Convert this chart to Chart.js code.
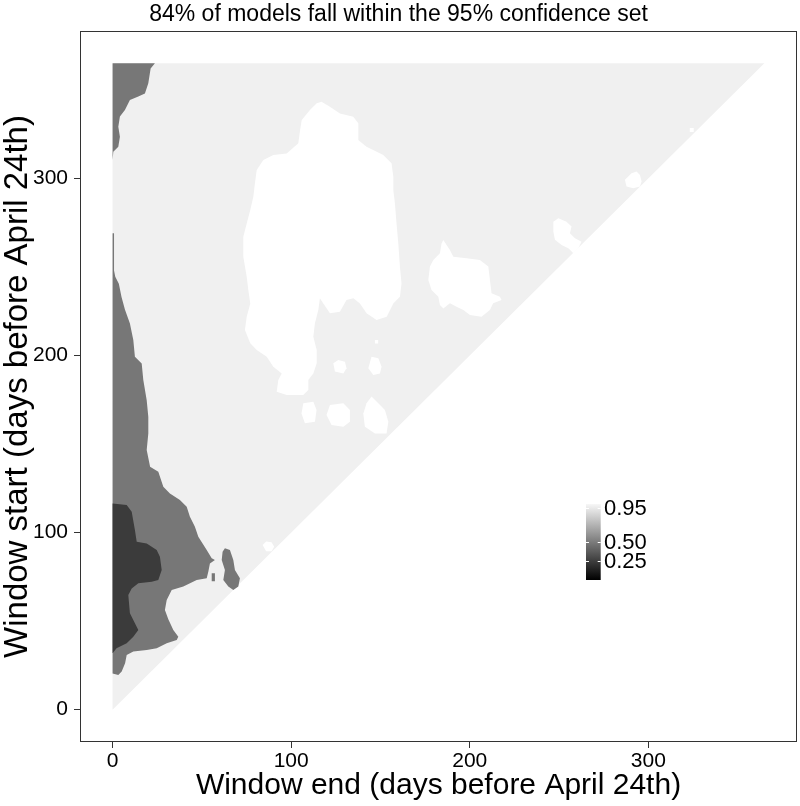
<!DOCTYPE html>
<html>
<head>
<meta charset="utf-8">
<script src="https://cdn.jsdelivr.net/npm/chart.js@4.4.0/dist/chart.umd.min.js"></script>
<style>
  html, body { margin: 0; padding: 0; background: #fff; }
</style>
</head>
<body>
<canvas id="grafico" width="800" height="806"></canvas>
<script>
// datos (dias antes del 24 de abril: x = fin de ventana, y = inicio de ventana)
const tickValues = [0, 100, 200, 300];
const legendTicks = [0.25, 0.50, 0.95];
const legendRange = [0, 1];

// zona valida (inicio >= fin)
const triangulo = [[0, 0], [0, 365], [365, 365]];

// manchas blancas
const blancaGrande = [
  [117, 343.3], [121.7, 340.5], [127.3, 336.7], [134.8, 334.8], [137.6, 331.1], [137.6, 321.7],
  [142.2, 317.9], [151.6, 313.2], [156.2, 308.5], [157.2, 301], [157.2, 293.4], [158.1, 285.9],
  [159, 274.6], [160, 263.3], [160.9, 250.1], [161.8, 240.7], [160.9, 233.2], [157.2, 229.4],
  [153.5, 221.9], [147.8, 220], [142.2, 223.8], [138.5, 229.4], [134.8, 232.3], [131, 231.3],
  [127.3, 224.7], [121.7, 223.8], [118, 229.4], [116.1, 232.3], [115.2, 225.7], [113.3, 218.2],
  [112.4, 210.6], [114.3, 203.1], [114.3, 195.6], [112.4, 189.9], [109.6, 186.2], [109.6, 180.5],
  [106.8, 177.7], [97.5, 177.7], [91.9, 179.6], [92.8, 186.2], [94.7, 189.9], [90, 193.7],
  [86.3, 199.3], [80.7, 203.1], [77.1, 206.9], [74.1, 214.4], [75.1, 221.9], [77.1, 229.4],
  [76, 237], [75.1, 244.5], [73.2, 255.8], [73.2, 267.1], [75.1, 274.6], [77.1, 282.1],
  [78.8, 289.7], [79.7, 297.2], [80.7, 304.7], [84.4, 310.4], [90, 313.2], [97.5, 314.1],
  [104, 319.8], [105, 327.3], [105.9, 333], [110.5, 338.6], [114.3, 342.4]
];
const blancaDerecha = [
  [185.2, 265.2], [188.9, 259.6], [190.8, 255.8], [198.2, 254.9], [205.7, 253.9], [210.4, 250.2],
  [211.3, 242.6], [212.2, 235.1], [216.9, 233.2], [217.8, 231.3], [213.1, 229.5], [211.3, 225.7],
  [206.6, 221.9], [200.1, 222.9], [196.4, 225.7], [192.6, 227.6], [188.9, 229.5], [185.2, 226.6],
  [183.3, 228.5], [182.4, 233.2], [178.6, 237], [176.8, 242.6], [177.7, 250.2], [179.6, 253.9],
  [183.3, 257.7], [184.2, 263.3]
];
const blancaChica1 = [[123.6, 195.6], [126.4, 197.5], [130.1, 196.5], [131, 192.8], [129.2, 189.9], [124.5, 190.9]];
const blancaChica2 = [[145, 199.3], [148.8, 198.4], [150.6, 193.7], [149.7, 189.9], [146, 189], [143.2, 192.8]];
const blancaPunto = [[146.9, 208.8], [148.7, 208.8], [148.7, 206.8], [146.9, 206.8]];
const blancaAbajo1 = [[106.8, 173], [112.4, 173.9], [114.2, 169.2], [113.3, 162.6], [107.7, 161.7], [105.8, 167.3]];
const blancaAbajo2 = [[121.7, 172], [129.2, 173], [132.9, 169.2], [132.9, 162.6], [129.2, 159.8], [122.6, 160.7], [119.8, 166.4]];
const blancaAbajo3 = [[145, 176.8], [148.8, 173], [152.5, 169.2], [154.4, 162.6], [153.4, 156], [146.9, 156], [141.3, 159.8], [140.4, 167.3], [142.2, 173]];
const blancaDiagonal1 = [
  [246.8, 275.6], [249.6, 277.5], [254.2, 275.6], [257, 272.8], [256.1, 269], [258.9, 266.2],
  [262.6, 264.3], [260.8, 260.6], [258, 257.7], [255.2, 260.6], [251.4, 262.4], [247.7, 265.3], [246.8, 270]
];
const blancaDiagonal2 = [[286.9, 299.2], [290.6, 302.9], [293.4, 303.9], [295.3, 302], [296.2, 298.2], [295.3, 295.4], [291.6, 294.4], [287.8, 295.4]];
const blancaDiagonal3 = [[323.2, 328.5], [325.4, 328.5], [325.4, 326.2], [323.2, 326.2]];
const blancaDiagonal4 = [[84, 93], [86, 95], [89, 94.5], [90.5, 92], [89, 89.5], [86, 89.5]];

// zonas gris medio
const grisArriba = [
  [0, 365], [23.7, 365], [21.3, 362.1], [20, 353.7], [18.1, 348], [14.4, 346.2], [9.7, 344.3],
  [6.9, 338.6], [4.1, 334.9], [3.2, 329.2], [4.1, 323.6], [3.2, 317.9], [0.4, 315.1], [0, 310.4]
];
const grisIzquierda = [
  [0, 20.5], [0, 269], [0.8, 269], [0.8, 248], [1.5, 244.5], [3.5, 240.5], [5, 233], [6.9, 226],
  [9.7, 218.1], [11.6, 208.7], [12.5, 199.3], [16.3, 195.5], [17.2, 186.1], [19.1, 174.8],
  [20, 165.4], [20, 156], [19.1, 146.6], [21, 137.2], [25.6, 134.4], [28.4, 125.9], [32.1, 122.1],
  [37.7, 118.4], [41.5, 114.6], [43.3, 109], [46.1, 103.3], [48, 97.7], [52.7, 90.2], [55.5, 85.5],
  [57.3, 84.5], [54.5, 82.6], [53.6, 77.9], [52.7, 74.2], [47.1, 73.2], [39.6, 69.5], [33.1, 67.6],
  [30.3, 61.9], [29.3, 56.3], [31.2, 51], [34, 45], [36.8, 41.2], [35.9, 39.4], [30.3, 37.5],
  [24.7, 34.7], [19.1, 33.7], [11.6, 32.8], [7.9, 30.9], [7, 26.2], [5.1, 21.5], [3.2, 19.6]
];
const grisIsla = [
  [62.9, 91.1], [65.7, 90.2], [67.6, 84.5], [68.5, 78.9], [71.3, 74.2], [70.4, 69.5], [67.6, 67.6],
  [64.8, 69.5], [62, 73.2], [62.9, 78.9], [61.1, 84.5], [61.6, 89.2]
];
const grisFragmento = [[55.5, 77], [57.3, 77], [57.3, 72.5], [55.5, 72.5]];

// zona gris oscuro
const grisOscuro = [
  [0, 116.5], [7.9, 115.6], [10.7, 111.8], [12.5, 101.5], [13.5, 94.9], [19.1, 93.9], [24.7, 90.2],
  [26.5, 86.3], [27.5, 78.9], [25.6, 73.2], [21.9, 72.3], [14.4, 71.4], [10.7, 68.5], [8.8, 64.8],
  [9.7, 54.4], [12.5, 48.8], [14.4, 45], [11.6, 41.2], [7.9, 37.5], [2.2, 34.7], [0, 31.8]
];

// colores
const grisClaro = '#f0f0f0';
const blanco = '#ffffff';
const grisMedio = '#777777';
const grisNegro = '#3b3b3b';

// capas (de abajo hacia arriba)
const capas = [
  { pts: triangulo, color: grisClaro },
  { pts: blancaGrande, color: blanco },
  { pts: blancaDerecha, color: blanco },
  { pts: blancaChica1, color: blanco },
  { pts: blancaChica2, color: blanco },
  { pts: blancaPunto, color: blanco },
  { pts: blancaAbajo1, color: blanco },
  { pts: blancaAbajo2, color: blanco },
  { pts: blancaAbajo3, color: blanco },
  { pts: blancaDiagonal1, color: blanco },
  { pts: blancaDiagonal2, color: blanco },
  { pts: blancaDiagonal3, color: blanco },
  { pts: blancaDiagonal4, color: blanco },
  { pts: grisArriba, color: grisMedio },
  { pts: grisIzquierda, color: grisMedio },
  { pts: grisIsla, color: grisMedio },
  { pts: grisFragmento, color: grisMedio },
  { pts: grisOscuro, color: grisNegro }
];

const fuente = 'Liberation Sans, Arial, Helvetica, sans-serif';

// marco del panel
const marcoPanel = {
  id: 'marcoPanel',
  afterDatasetsDraw(chart) {
    const { ctx, chartArea: a } = chart;
    ctx.save();
    ctx.strokeStyle = '#333333';
    ctx.lineWidth = 1;
    ctx.strokeRect(a.left + 0.5, a.top + 0.5, a.right - a.left - 1, a.bottom - a.top - 1);
    ctx.restore();
  }
};

// barra de color (leyenda)
const barraColor = {
  id: 'barraColor',
  afterDraw(chart) {
    const ctx = chart.ctx;
    const x = 586, w = 14.7, top = 504, bottom = 580;
    const toY = v => bottom - (v - legendRange[0]) / (legendRange[1] - legendRange[0]) * (bottom - top);
    ctx.save();
    const g = ctx.createLinearGradient(0, bottom, 0, top);
    g.addColorStop(0, '#000000');
    g.addColorStop(1, '#f7f7f7');
    ctx.fillStyle = g;
    ctx.fillRect(x, top, w, bottom - top);
    ctx.strokeStyle = '#ffffff';
    ctx.lineWidth = 1;
    legendTicks.forEach(v => {
      const y = Math.round(toY(v)) + 0.5;
      ctx.beginPath();
      ctx.moveTo(x, y); ctx.lineTo(x + 3, y);
      ctx.moveTo(x + w - 3, y); ctx.lineTo(x + w, y);
      ctx.stroke();
    });
    ctx.fillStyle = '#000000';
    ctx.font = '22px ' + fuente;
    ctx.textAlign = 'left';
    ctx.textBaseline = 'middle';
    legendTicks.forEach(v => {
      ctx.fillText(v.toFixed(2), 604, toY(v) + 1);
    });
    ctx.restore();
  }
};

const ctx = document.getElementById('grafico').getContext('2d');
const grafico = new Chart(ctx, {
  type: 'line',
  data: {
    datasets: capas.map((c, i) => ({
      data: c.pts.map(p => ({ x: p[0], y: p[1] })),
      backgroundColor: c.color,
      borderColor: c.color,
      borderWidth: 0,
      pointRadius: 0,
      tension: 0,
      fill: 'shape',
      order: -i
    }))
  },
  options: {
    responsive: false,
    animation: false,
    events: [],
    layout: { padding: { top: 0, right: 3, bottom: 0, left: 0 } },
    plugins: {
      legend: { display: false },
      tooltip: { enabled: false },
      title: {
        display: true,
        text: '84% of models fall within the 95% confidence set',
        color: '#000',
        font: { family: fuente, size: 23, weight: 'normal' },
        padding: { top: 0.5, bottom: 2.9 }
      }
    },
    scales: {
      x: {
        type: 'linear',
        min: -18.25,
        max: 383.25,
        afterBuildTicks: s => { s.ticks = tickValues.map(v => ({ value: v })); },
        afterFit: s => { s.height = 64; },
        border: { display: false },
        grid: { drawOnChartArea: false, drawTicks: true, tickLength: 6, color: '#333333' },
        ticks: { color: '#000', font: { family: fuente, size: 21 }, padding: 1, maxRotation: 0 },
        title: {
          display: true,
          text: 'Window end (days before April 24th)',
          color: '#000',
          font: { family: fuente, size: 30 },
          padding: { top: 0, bottom: 2 }
        }
      },
      y: {
        type: 'linear',
        min: -18.25,
        max: 383.25,
        afterBuildTicks: s => { s.ticks = tickValues.map(v => ({ value: v })); },
        afterFit: s => { s.width = 80; },
        border: { display: false },
        grid: { drawOnChartArea: false, drawTicks: true, tickLength: 6, color: '#333333' },
        ticks: { color: '#000', font: { family: fuente, size: 21 }, padding: 6 },
        title: {
          display: true,
          text: 'Window start (days before April 24th)',
          color: '#000',
          font: { family: fuente, size: 33 },
          padding: { top: -2, bottom: 0 }
        }
      }
    }
  },
  plugins: [marcoPanel, barraColor]
});
</script>
</body>
</html>
